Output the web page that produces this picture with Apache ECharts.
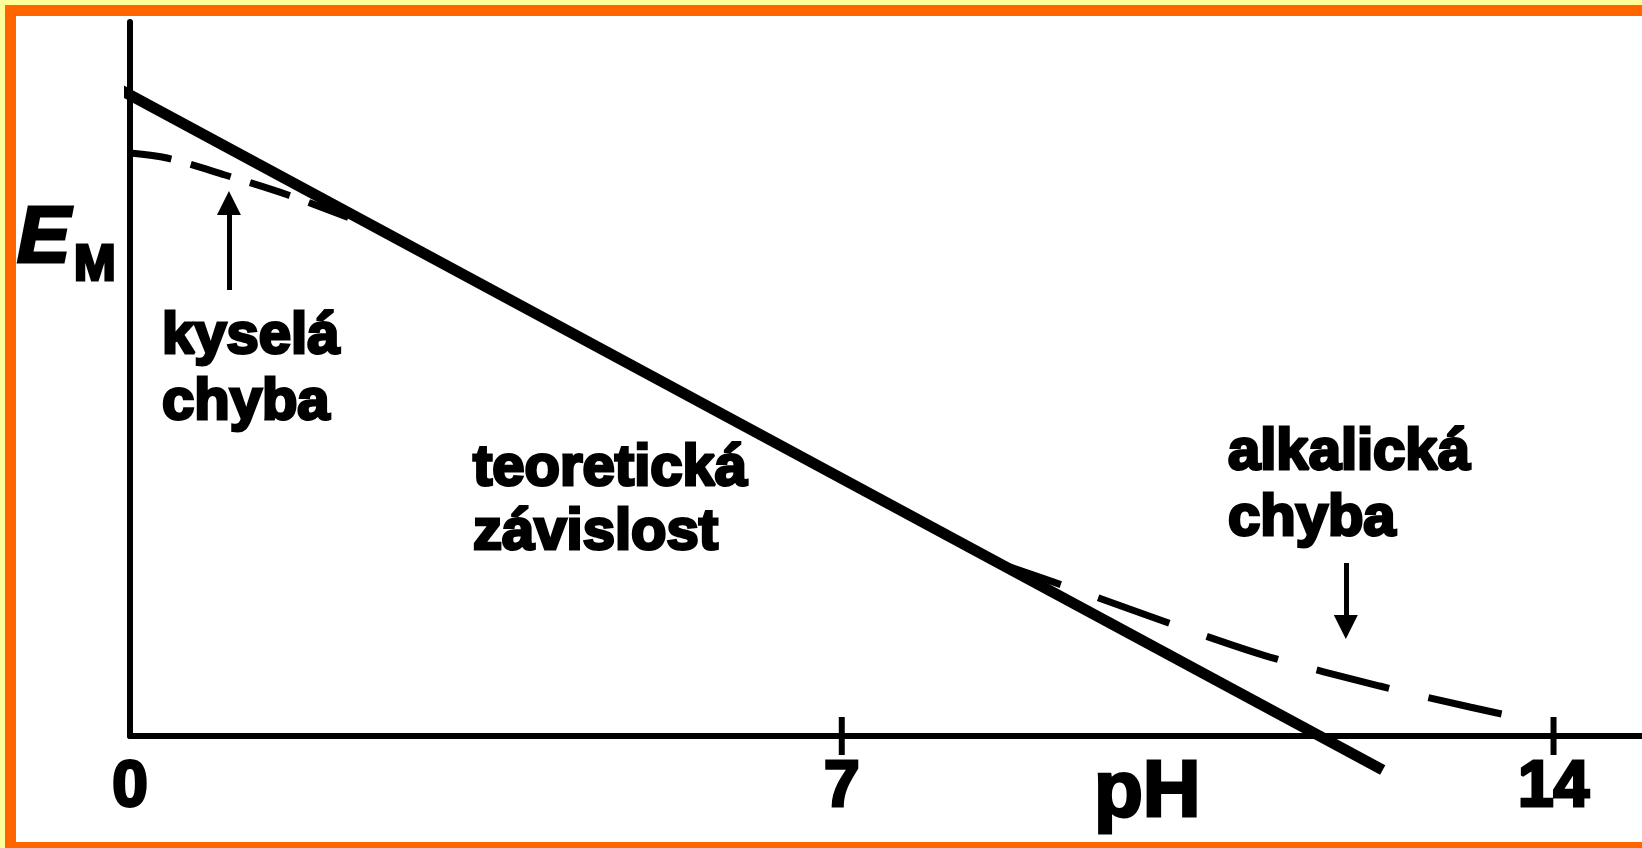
<!DOCTYPE html>
<html>
<head>
<meta charset="utf-8">
<script src="https://cdn.jsdelivr.net/npm/echarts@6/dist/echarts.min.js"></script>
<style>
html,body{margin:0;padding:0;background:#fff;}
#chart{width:1642px;height:848px;}
</style>
</head>
<body>
<div id="chart"></div>
<script>
// ---- data (arbitrary E units, pH on x) ----
const X_MAX = 14.87;
const Y_MAX = 10;
// theoretical dependence (straight line)
const theoryX = [-0.147, 12.32];
const theoryY = [9.09, -0.476];
// acid error (dashed, left)
const acidX = [0, 0.364, 0.934, 1.554, 2.291];
const acidY = [8.165, 8.095, 7.857, 7.577, 7.185];
// alkaline error (dashed, right)
const alkX = [8.456, 9.390, 10.324, 11.209, 12.291, 13.176, 13.717];
const alkY = [2.465, 2.003, 1.527, 1.106, 0.700, 0.406, 0.238];
// arrows [x, yFrom, yTo]
const acidArrow = [0.973, 6.246, 7.465];
const alkArrow = [11.957, 2.423, 1.527];
// axis ticks and labels
const tickValues = [7, 14];
const labelValues = [0, 7, 14];
const texts = {
  acid: ['kyselá', 'chyba'],
  theory: ['teoretická', 'závislost'],
  alk: ['alkalická', 'chyba'],
  yName: 'E',
  ySub: 'M',
  xName: 'pH'
};

const zip = (xs, ys) => xs.map((x, i) => [x, ys[i]]);
const FONT = "'Liberation Sans', Arial, sans-serif";
const txtStyle = (text, x, y, size, extra) => ({
  type: 'text', x: x, y: y, z: 50,
  style: Object.assign({
    text: text, fill: '#000', font: 'bold ' + size + 'px ' + FONT,
    verticalAlign: 'middle', align: 'left',
    stroke: '#000', lineWidth: 3, lineJoin: 'round'
  }, extra || {})
});

const chart = echarts.init(document.getElementById('chart'), null, {renderer: 'canvas'});
const option = {
  animation: false,
  backgroundColor: '#ffffff',
  grid: {left: 130, top: 22, right: 0, bottom: 112, containLabel: false, outerBoundsMode: 'none'},
  xAxis: {
    type: 'value', min: 0, max: X_MAX,
    axisLine: {show: true, onZero: false, lineStyle: {color: '#000', width: 6, opacity: 1}},
    axisTick: {show: false},
    splitLine: {show: false},
    axisLabel: {
      show: true, customValues: labelValues, margin: 20,
      color: '#000', fontSize: 64, fontWeight: 'bold', fontFamily: FONT,
      textBorderColor: '#000', textBorderWidth: 3
    }
  },
  yAxis: {
    type: 'value', min: 0, max: Y_MAX,
    axisLine: {show: true, onZero: false, lineStyle: {color: '#000', width: 6, opacity: 1}},
    axisTick: {show: false}, axisLabel: {show: false}, splitLine: {show: false}
  },
  series: [
    {
      type: 'line', data: zip(acidX, acidY), symbol: 'none', smooth: 0.3, clip: false, z: 3,
      lineStyle: {color: '#000', width: 7, type: [42, 20], opacity: 1}
    },
    {
      type: 'line', data: zip(alkX, alkY), symbol: 'none', smooth: 0.3, clip: false, z: 3,
      lineStyle: {color: '#000', width: 7, type: [75, 40], opacity: 1}
    },
    {
      type: 'line', data: zip(theoryX, theoryY), symbol: 'none', clip: false, z: 5,
      lineStyle: {color: '#000', width: 11, cap: 'butt', opacity: 1}
    },
    {
      type: 'scatter', data: tickValues.map(v => [v, 0]), symbol: 'rect',
      symbolSize: [6, 38], clip: false, z: 6, itemStyle: {color: '#000', opacity: 1}, silent: true
    },
    {
      type: 'lines', coordinateSystem: 'cartesian2d', z: 6,
      symbol: ['none', 'triangle'], symbolSize: 24,
      lineStyle: {color: '#000', width: 5, opacity: 1},
      data: [
        {coords: [[acidArrow[0], acidArrow[1]], [acidArrow[0], acidArrow[2]]]},
        {coords: [[alkArrow[0], alkArrow[1]], [alkArrow[0], alkArrow[2]]]}
      ]
    }
  ],
  graphic: [
    // frame
    {type: 'rect', shape: {x: 0, y: 0, width: 1642, height: 5}, style: {fill: '#FFFF99'}, z: 100},
    {type: 'rect', shape: {x: 0, y: 0, width: 5, height: 848}, style: {fill: '#FFFF99'}, z: 100},
    {type: 'rect', shape: {x: 5, y: 5, width: 1637, height: 11}, style: {fill: '#FF6600'}, z: 100},
    {type: 'rect', shape: {x: 5, y: 5, width: 11, height: 843}, style: {fill: '#FF6600'}, z: 100},
    {type: 'rect', shape: {x: 5, y: 842, width: 1637, height: 6}, style: {fill: '#FF6600'}, z: 100},
    // annotations
    txtStyle(texts.acid[0], 162, 337, 58),
    txtStyle(texts.acid[1], 162, 403, 58),
    txtStyle(texts.theory[0], 473, 469, 58),
    txtStyle(texts.theory[1], 473, 533, 58),
    txtStyle(texts.alk[0], 1228, 453, 58),
    txtStyle(texts.alk[1], 1228, 519, 58),
    txtStyle(texts.yName, 17, 240, 80, {font: 'italic bold 80px ' + FONT}),
    txtStyle(texts.ySub, 74, 266, 50, {font: "bold 50px 'Liberation Sans Narrow', 'Liberation Sans', sans-serif"}),
    txtStyle(texts.xName, 1094, 794, 80)
  ]
};
chart.setOption(option);
</script>
</body>
</html>
